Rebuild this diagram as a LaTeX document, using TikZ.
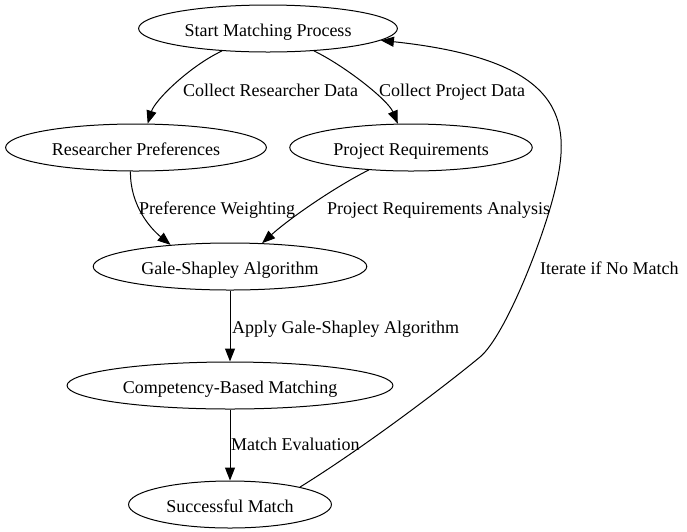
\documentclass[tikz,border=0pt]{standalone}
\usepackage{fontspec}
\setmainfont{Liberation Serif}
\usetikzlibrary{
arrows.meta,
positioning,
shapes.geometric
}
\tikzset{
gsnode/.style={draw, ellipse, line width=1pt, inner xsep=8pt, inner ysep=0pt,
  minimum height=47pt, text height=17pt, text depth=2pt,
  font=\fontsize{18}{21}\selectfont},
gsarrow/.style={-{Triangle[length=13pt,width=10pt]}, line width=1pt},
gslabel/.style={anchor=west, inner sep=0pt, text height=17pt, text depth=2pt,
  font=\fontsize{18}{21}\selectfont}
}

\begin{document}
\begin{tikzpicture}[x=1pt, y=-1pt, node distance=71pt]
\useasboundingbox (0,0) rectangle (687,531);
\node[gsnode] (start) at (268,28.5) {Start Matching Process};
\node[gsnode, below=of start, xshift=-132pt] (rpref) {Researcher Preferences};
\node[gsnode, below=of start, xshift=143pt] (preq) {Project Requirements};
\node[gsnode, below=of rpref, xshift=94pt] (gale) {Gale-Shapley Algorithm};
\node[gsnode, below=of gale] (comp) {Competency-Based Matching};
\node[gsnode, below=of comp] (succ) {Successful Match};
% edge labels
\node[gslabel] (lcrd) at (183,89) {Collect Researcher Data};
\node[gslabel] (lcpd) at (379,89) {Collect Project Data};
\node[gslabel] (lpw) at (139,207) {Preference Weighting};
\node[gslabel] (lpra) at (327,207) {Project Requirements Analysis};
\node[gslabel] (lagsa) at (232,326) {Apply Gale-Shapley Algorithm};
\node[gslabel] (lme) at (231,443) {Match Evaluation};
\node[gslabel] (linm) at (540,267) {Iterate if No Match};
% connectors
\draw[gsarrow] (start.206) .. controls (190,66) and (155,100) .. (rpref.64);
\draw[gsarrow] (start.334) .. controls (345,66) and (388,100) .. (preq.119);
\draw[gsarrow] (rpref.257) .. controls (130,205) and (150,228) .. (gale.160);
\draw[gsarrow] (preq.208) .. controls (335,187) and (290,218) .. (gale.36);
\draw[gsarrow] (gale) -- (comp);
\draw[gsarrow] (comp) -- (succ);
\draw[gsarrow] (succ.14) .. controls (360,450) and (440,390) .. (480,357)
  .. controls (505,336) and (543,240) .. (555,190)
  .. controls (572,120) and (565,60) .. (start.354);
\end{tikzpicture}
\end{document}
